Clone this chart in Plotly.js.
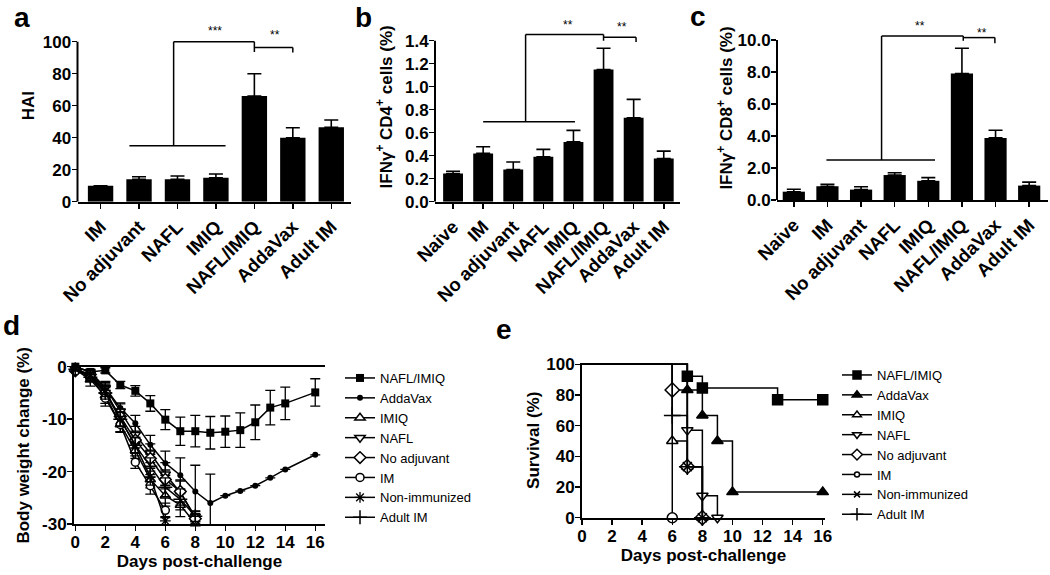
<!DOCTYPE html>
<html><head><meta charset="utf-8">
<script src="https://cdn.plot.ly/plotly-3.0.1.min.js"></script>
<style>html,body{margin:0;padding:0;background:#fff}#chart{width:1050px;height:575px}</style>
</head><body><div id="chart"></div>
<script>
// ---------- Panel a: HAI ----------
const catsA = ['IM','No adjuvant','NAFL','IMIQ','NAFL/IMIQ','AddaVax','Adult IM'];
const haiMean = [10, 14, 14, 15, 66, 40, 46.5];
const haiErr  = [null, 1.6, 2.1, 2.3, 14, 6.2, 4.6];
// ---------- Panel b: IFNγ+ CD4+ ----------
const catsBC = ['Naive','IM','No adjuvant','NAFL','IMIQ','NAFL/IMIQ','AddaVax','Adult IM'];
const cd4Mean = [0.245, 0.42, 0.28, 0.39, 0.52, 1.15, 0.73, 0.375];
const cd4Err  = [0.02, 0.058, 0.065, 0.065, 0.10, 0.185, 0.16, 0.065];
// ---------- Panel c: IFNγ+ CD8+ ----------
const cd8Mean = [0.52, 0.86, 0.65, 1.56, 1.2, 7.9, 3.88, 0.9];
const cd8Err  = [0.15, 0.12, 0.18, 0.14, 0.2, 1.58, 0.48, 0.22];
// ---------- Panel d: body weight ----------
const daysLong = [0,1,2,3,4,5,6,7,8,9,10,11,12,13,14,16];
const bwNaflImiq    = [0,-1,-0.7,-3.5,-4.6,-7,-10.1,-12.3,-12.3,-12.6,-12.4,-12.1,-10.6,-7.8,-7,-4.9];
const bwNaflImiqErr = [0.4,0.5,0.5,0.7,1,1.5,1.9,2.7,3,3.1,3,3.3,3.3,3.3,3.1,2.6];
const bwAddaVax     = [0,-1,-4,-7.9,-10.8,-14.9,-18.4,-20.7,-23.8,-26,-24.6,-23.7,-22.7,-21.2,-19.6,-16.8];
const bwAddaVaxErr  = [0.3,0.5,1,1,1.5,1.8,2.3,3.3,5,5.5,null,null,null,null,null,null];
const daysTo8 = [0,1,2,3,4,5,6,7,8];
const daysTo6 = [0,1,2,3,4,5,6];
const bwImiq     = [-0.5,-2.5,-5.5,-11,-16,-21.5,-24.6,-26.4,-29.9];
const bwImiqErr  = [0.4,1.2,1.5,1.4,1.5,1.6,2,2.2,0.8];
const bwNafl     = [-0.5,-1.5,-4,-8.5,-13,-16.5,-20.5,-24,-28.6];
const bwNaflErr  = [0.3,0.8,1.2,1.4,1.6,1.8,2.2,2.4,1];
const bwNoAdj    = [-0.8,-1.5,-5,-9.5,-14,-17.5,-21.5,-23.8,-29];
const bwNoAdjErr = [0.3,0.8,1.2,1.4,1.5,1.6,1.8,2,1];
const bwIM       = [-0.8,-1.8,-6,-11,-18.2,-22.7,-27.4];
const bwIMErr    = [0.3,0.8,1.5,1.5,1.2,1.6,1.4];
const bwNonImm   = [-0.5,-1.5,-4.5,-10,-15,-21,-29.4];
const bwNonImmErr= [0.3,0.8,1.2,1.3,1.5,1.6,0.8];
const bwAdultIM  = [-0.5,-2,-5,-10,-15,-19,-23,-25.3,-28.5];
const bwAdultIMErr=[0.3,0.8,1.2,1.4,1.5,1.6,1.8,2,1];
// ---------- Panel e: survival ----------
const svNaflImiqT = [0,7,8,13,16];      const svNaflImiq = [100,92.3,84.6,76.9,76.9];
const svAddaVaxT  = [0,7,8,9,10,16];    const svAddaVax  = [100,83.3,66.7,50,16.7,16.7];
const svImiqT     = [0,6,7,8];          const svImiq     = [100,50,33.3,0];
const svNaflT     = [0,7,8,9];          const svNafl     = [100,57.1,14.3,0];
const svNoAdjT    = [0,6,7,8];          const svNoAdj    = [100,83.3,33.3,0];
const svIMT       = [0,6];              const svIM       = [100,0];
const svNonImmT   = [0,7,8];            const svNonImm   = [100,33.3,0];
const svAdultIMT  = [0,6,7,8];          const svAdultIM  = [100,66.7,33.3,0];

const FONT = 'Liberation Sans, Arial, sans-serif';
const K = '#000';
const W = 1050, H = 575;
const px = x => x / W;
const py = y => 1 - y / H;

const traces = [];
function barTrace(cats, vals, errs, xa, ya) {
  return {type:'bar', x:cats, y:vals, xaxis:xa, yaxis:ya, width:0.66,
    marker:{color:K, line:{width:0}}, showlegend:false, hoverinfo:'skip',
    error_y:{type:'data', symmetric:false, array:errs, arrayminus:errs.map(()=>0),
      color:K, thickness:1.6, width:7}};
}
traces.push(barTrace(catsA, haiMean, haiErr, 'x', 'y'));
traces.push(barTrace(catsBC, cd4Mean, cd4Err, 'x2', 'y2'));
traces.push(barTrace(catsBC, cd8Mean, cd8Err, 'x3', 'y3'));

const openM = (sym, size) => ({symbol:sym, size:size, color:'#fff', opacity:1, line:{color:K, width:1.5}});
const dSeries = [
  ['NAFL/IMIQ', daysLong, bwNaflImiq, bwNaflImiqErr, {symbol:'square', size:8, color:K, opacity:1}],
  ['AddaVax', daysLong, bwAddaVax, bwAddaVaxErr, {symbol:'circle', size:6, color:K, opacity:1}],
  ['IMIQ', daysTo8, bwImiq, bwImiqErr, openM('triangle-up', 9)],
  ['NAFL', daysTo8, bwNafl, bwNaflErr, openM('triangle-down', 9)],
  ['No adjuvant', daysTo8, bwNoAdj, bwNoAdjErr, openM('diamond', 9)],
  ['IM', daysTo6, bwIM, bwIMErr, openM('circle', 8)],
  ['Non-immunized', daysTo6, bwNonImm, bwNonImmErr, {symbol:'asterisk-open', size:9, color:K, opacity:1, line:{color:K, width:1.3}}],
  ['Adult IM', daysTo8, bwAdultIM, bwAdultIMErr, {symbol:'cross-thin-open', size:10, color:K, opacity:1, line:{color:K, width:1.5}}]
];
dSeries.forEach((s, i) => {
  traces.push({type:'scatter', mode:'lines+markers', name:s[0], x:s[1], y:s[2],
    xaxis:'x4', yaxis:'y4', legend:'legend', legendrank:i+1, cliponaxis:false,
    line:{color:K, width:1.5}, marker:s[4], hoverinfo:'skip',
    error_y:{type:'data', array:s[3], color:K, thickness:1.3, width:5}});
});
const eSeries = [
  ['NAFL/IMIQ', svNaflImiqT, svNaflImiq, 'square', 10, K],
  ['AddaVax', svAddaVaxT, svAddaVax, 'triangle-up', 10, K],
  ['IMIQ', svImiqT, svImiq, 'triangle-up', 10, '#fff'],
  ['NAFL', svNaflT, svNafl, 'triangle-down', 10, '#fff'],
  ['No adjuvant', svNoAdjT, svNoAdj, 'diamond', 11, '#fff'],
  ['IM', svIMT, svIM, 'circle', 10, '#fff'],
  ['Non-immunized', svNonImmT, svNonImm, 'x-thin-open', 9, K],
  ['Adult IM', svAdultIMT, svAdultIM, 'cross-thin-open', 12, K]
];
eSeries.forEach((s, i) => {
  const sizes = s[1].map((t, j) => j === 0 ? 0 : s[4]);
  traces.push({type:'scatter', mode:'lines+markers', name:s[0], x:s[1], y:s[2],
    xaxis:'x5', yaxis:'y5', legend:'legend2', legendrank:i+1, cliponaxis:false,
    line:{color:K, width:1.5, shape:'hv'}, hoverinfo:'skip',
    marker:{symbol:s[3], size:sizes, color:s[5], opacity:1, line:{color:K, width:1.5}}});
});

const tickFont = {family:FONT, size:17, color:K, weight:'bold'};
const catFont = {family:FONT, size:18.5, color:K, weight:'bold'};
const titleFont = {family:FONT, size:17, color:K, weight:'bold'};
function catX(domain, range, anchor) {
  return {domain:domain, range:range, anchor:anchor, type:'category', showline:true, linewidth:2, linecolor:K,
    ticks:'outside', ticklen:5, tickwidth:1.5, tickcolor:K, tickangle:-45, tickfont:catFont,
    showgrid:false, zeroline:false, fixedrange:true};
}
function barY(domain, range, tv, tt, anchor, title, standoff) {
  return {domain:domain, range:range, anchor:anchor, showline:false, ticks:'outside', ticklen:5, tickwidth:1.5,
    tickcolor:K, tickvals:tv, ticktext:tt, tickfont:tickFont, ticklabelstandoff:-3, showgrid:false, zeroline:false,
    title:{text:title, font:titleFont, standoff:standoff}};
}
const tvA = [0,20,40,60,80,100];
const tvB = [0,0.2,0.4,0.6,0.8,1.0,1.2,1.4];
const tvC = [0,2,4,6,8,10];
const tvD = [0,-10,-20,-30];
const tvE = [0,20,40,60,80,100];
const tvDays = [0,2,4,6,8,10,12,14,16];

const layout = {
  width:W, height:H, margin:{l:0, r:0, t:0, b:0}, paper_bgcolor:'#fff', plot_bgcolor:'rgba(0,0,0,0)',
  font:{family:FONT, color:K}, bargap:0.34,
  xaxis: catX([px(77.5), px(350.5)], [-0.6, 6.5], 'y'),
  yaxis: barY([py(201.7), py(9.7)], [0, 120], tvA, tvA.map(String), 'x', 'HAI', 3),
  xaxis2: catX([px(435), px(680)], [-0.6, 7.54], 'y2'),
  yaxis2: barY([py(201.7), py(12)], [0, 1.65], tvB, tvB.map(v=>v.toFixed(1)), 'x2', 'IFNγ<sup>+</sup> CD4<sup>+</sup> cells (%)', 8),
  xaxis3: catX([px(777), px(1048)], [-0.5, 7.56], 'y3'),
  yaxis3: barY([py(200), py(16)], [0, 11.5], tvC, tvC.map(v=>v.toFixed(1)), 'x3', 'IFNγ<sup>+</sup> CD8<sup>+</sup> cells (%)', 0),
  xaxis4: {domain:[px(74), px(325)], range:[-0.09, 16.65], anchor:'y4', showline:true, linewidth:2, linecolor:K,
    mirror:true, ticks:'outside', ticklen:5, tickwidth:1.5, tickcolor:K, tickvals:tvDays, ticklabelstandoff:-3,
    tickfont:tickFont, showgrid:false, zeroline:false, title:{text:'Days post-challenge', font:titleFont, standoff:0}},
  yaxis4: {domain:[py(524), py(366.7)], range:[-30, 0], anchor:'x4', showline:true, linewidth:2, linecolor:K,
    ticks:'outside', ticklen:5, tickwidth:1.5, tickcolor:K, tickvals:tvD, ticktext:tvD.map(v=>String(v)), ticklabelstandoff:-3,
    tickfont:tickFont, showgrid:false, zeroline:false, title:{text:'Body weight change (%)', font:titleFont, standoff:8}},
  xaxis5: {domain:[px(582), px(825)], range:[0, 16.15], anchor:'y5', showline:true, linewidth:2, linecolor:K,
    ticks:'outside', ticklen:5, tickwidth:1.5, tickcolor:K, tickvals:tvDays, ticklabelstandoff:-3,
    tickfont:tickFont, showgrid:false, zeroline:false, title:{text:'Days post-challenge', font:titleFont, standoff:0}},
  yaxis5: {domain:[py(517.7), py(362.8)], range:[0, 101], anchor:'x5', showline:true, linewidth:2, linecolor:K,
    ticks:'outside', ticklen:5, tickwidth:1.5, tickcolor:K, tickvals:tvE, ticklabelstandoff:-3, tickfont:tickFont,
    showgrid:false, zeroline:false, title:{text:'Survival (%)', font:titleFont, standoff:2}},
  legend: {x:px(340), y:py(363), xanchor:'left', yanchor:'top', bgcolor:'rgba(0,0,0,0)', borderwidth:0,
    font:{family:FONT, size:13, color:K}, itemwidth:30, tracegroupgap:0, traceorder:'normal'},
  legend2: {x:px(837), y:py(360), xanchor:'left', yanchor:'top', bgcolor:'rgba(0,0,0,0)', borderwidth:0,
    font:{family:FONT, size:13, color:K}, itemwidth:30, tracegroupgap:0, traceorder:'normal'},
  shapes: [], annotations: []
};

// y-axis lines for bar panels (visible part of axis only)
[['x','y',100],['x2','y2',1.4],['x3','y3',10]].forEach(a => {
  layout.shapes.push({type:'line', xref:a[0]+' domain', yref:a[1], x0:0, x1:0, y0:0, y1:a[2], line:{color:K, width:2}});
});
// significance brackets
function bracketPath(xr, yr, pts) {
  for (let i = 0; i < pts.length - 1; i++) {
    layout.shapes.push({type:'line', xref:xr, yref:yr, x0:pts[i][0], y0:pts[i][1], x1:pts[i+1][0], y1:pts[i+1][1],
      line:{color:K, width:1.5}});
  }
}
function star(xr, yr, x, y, t) {
  layout.annotations.push({xref:xr, yref:yr, x:x, y:y, text:t, showarrow:false, font:{family:FONT, size:12, color:K}});
}
// a
bracketPath('x','y', [[0.75,35],[3.25,35]]);
bracketPath('x','y', [[1.9,35],[1.9,100],[4,100],[4,93.5]]);
bracketPath('x','y', [[4,96.3],[5,96.3],[5,93.3]]);
star('x','y', 2.98, 106.5, '***'); star('x','y', 4.54, 104.5, '**');
// b
bracketPath('x2','y2', [[1.0,0.695],[4.05,0.695]]);
bracketPath('x2','y2', [[2.41,0.695],[2.41,1.455],[5,1.455],[5,1.40]]);
bracketPath('x2','y2', [[5,1.43],[6.08,1.43],[6.08,1.39]]);
star('x2','y2', 3.82, 1.54, '**'); star('x2','y2', 5.6, 1.52, '**');
// c
bracketPath('x3','y3', [[0.97,2.5],[4.2,2.5]]);
bracketPath('x3','y3', [[2.61,2.5],[2.61,10.25],[5.04,10.25],[5.04,9.95]]);
bracketPath('x3','y3', [[5.04,10.15],[5.98,10.15],[5.98,9.8]]);
star('x3','y3', 3.75, 10.85, '**'); star('x3','y3', 5.59, 10.45, '**');

// panel letters
[['a',22,17],['b',363,17],['c',698,16],['d',11,325],['e',504,329]].forEach(l => {
  layout.annotations.push({xref:'paper', yref:'paper', x:px(l[1]), y:py(l[2]), text:l[0], showarrow:false,
    xanchor:'center', yanchor:'middle', font:{family:FONT, size:28, color:K, weight:'bold'}});
});

Plotly.newPlot('chart', traces, layout, {staticPlot:true, displayModeBar:false});
</script></body></html>
